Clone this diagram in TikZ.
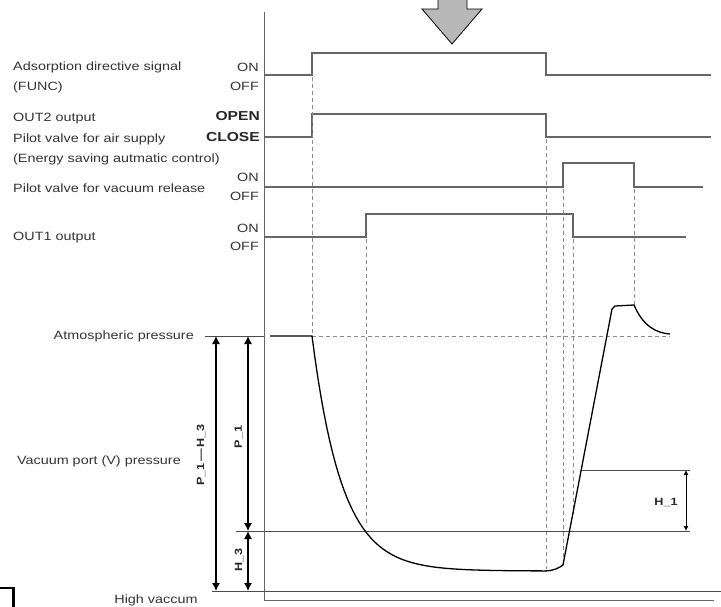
\documentclass[tikz,border=0pt]{standalone}
\usepackage{fontspec}
\setmainfont{Liberation Sans}[FakeStretch=1.2]
\usepackage{tikz}
\usetikzlibrary{arrows.meta, calc}

\begin{document}
\begin{tikzpicture}[x=1pt, y=-1pt,
    siglabel/.style={anchor=west, inner sep=0pt, font=\fontsize{12}{14}\selectfont, text=black!80},
    statelabel/.style={anchor=east, inner sep=0pt, font=\fontsize{12}{14}\selectfont, text=black!80},
    boldstate/.style={anchor=east, inner sep=0pt, font=\fontsize{13}{15}\selectfont\bfseries, text=black!85},
    wave/.style={draw=black!60, line width=1.4pt},
    guide/.style={draw=black!45, dash pattern=on 4pt off 3pt, line width=0.9pt},
    level/.style={draw=black!70, line width=0.7pt},
    dim/.style={draw=black, line width=1.1pt, {Latex[length=8pt,width=8pt]}-{Latex[length=8pt,width=8pt]}},
    dimsmall/.style={draw=black, line width=0.9pt, {Latex[length=5pt,width=5pt]}-{Latex[length=5pt,width=5pt]}},
    dimlabel/.style={font=\fontsize{10.5}{12}\selectfont\bfseries, inner sep=0pt, text=black!85}]
    \useasboundingbox (0,0) rectangle (721,606);

    % Time axis
    \draw[black!60, line width=0.9pt] (264,12) -- (264,600) -- (714,600);

    % Big arrow: adsorption start
    \draw[black, line width=0.8pt, fill=black!28] (438,-2) -- (438,9) -- (422,9) -- (452,44)
        -- (482,9) -- (467,9) -- (467,-2);

    % Signal 1: adsorption directive signal
    \node[siglabel] (funcA) at (13,67) {Adsorption directive signal};
    \node[siglabel] (funcB) at (13,87) {(FUNC)};
    \node[statelabel] (funcOn) at (259,67) {ON};
    \node[statelabel] (funcOff) at (259,86) {OFF};
    \draw[wave] (264,75) -- (312,75) -- (312,53) -- (546,53) -- (546,75) -- (711,75);

    % Signal 2: OUT2 output
    \node[siglabel] (outTwoA) at (13,119) {OUT2 output};
    \node[siglabel] (outTwoB) at (13,139) {Pilot valve for air supply};
    \node[siglabel] (outTwoC) at (13,159) {(Energy saving autmatic control)};
    \node[boldstate] (outTwoOpen) at (260,116) {OPEN};
    \node[boldstate] (outTwoClose) at (260,137) {CLOSE};
    \draw[wave] (264,137) -- (312,137) -- (312,114) -- (546,114) -- (546,137) -- (711,137);

    % Signal 3: pilot valve for vacuum release
    \node[siglabel] (relA) at (13,188) {Pilot valve for vacuum release};
    \node[statelabel] (relOn) at (259,177) {ON};
    \node[statelabel] (relOff) at (259,196) {OFF};
    \draw[wave] (264,187) -- (563,187) -- (563,163) -- (634,163) -- (634,187) -- (703,187);

    % Signal 4: OUT1 output
    \node[siglabel] (outOneA) at (13,238) {OUT1 output};
    \node[statelabel] (outOneOn) at (259,228) {ON};
    \node[statelabel] (outOneOff) at (259,246) {OFF};
    \draw[wave] (264,237) -- (366,237) -- (366,214) -- (573,214) -- (573,237) -- (686,237);

    % Timing guides
    \draw[guide] (312,77) -- (312,336);
    \draw[guide] (366,239) -- (366,523);
    \draw[guide] (546,139) -- (546,569);
    \draw[guide] (563,189) -- (563,563);
    \draw[guide] (573,239) -- (573,514);
    \draw[guide] (634,189) -- (634,305);
    \draw[guide] (312,336) -- (670,336);

    % Pressure levels
    \coordinate (atm) at (0,336);
    \coordinate (pone) at (0,531);
    \coordinate (hone) at (0,470);
    \coordinate (hvac) at (0,591);
    \coordinate (colA) at (216,0);
    \coordinate (colB) at (248,0);
    \coordinate (colC) at (686,0);
    \draw[level] (205,336) -- (264,336);
    \draw[level] (236,531) -- (690,531);
    \draw[level] (582,470) -- (690,470);
    \draw[level] (212,591) -- (721,591);

    \node[anchor=east, inner sep=0pt, font=\fontsize{12}{14}\selectfont, text=black!80] (atmText) at (194,336) {Atmospheric pressure};
    \node[anchor=east, inner sep=0pt, font=\fontsize{12}{14}\selectfont, text=black!80] (vpText) at (181,461) {Vacuum port (V) pressure};
    \node[inner sep=0pt, font=\fontsize{12}{14}\selectfont, text=black!80] (hvText) at (156,600) {High vaccum};

    % Vacuum port pressure curve
    \draw[black, line width=1.3pt] (270,336) -- (312,336)
        -- plot[domain=312:545, samples=80] (\x, {571-235*exp(-(\x-312)/30)})
        .. controls (553,571) and (559,568) .. (563,565)
        -- (612,309) -- (615,306) -- (634,305)
        .. controls (643,326) and (656,333) .. (670,334);

    % Dimensions
    \draw[dim] (colA |- atm) -- (colA |- hvac);
    \draw[dim] (colB |- atm) -- (colB |- pone);
    \draw[dim] (colB |- pone) -- (colB |- hvac);
    \draw[dimsmall] (colC |- hone) -- (colC |- pone);
    \node[dimlabel, rotate=90] (pmh) at (201,455) {P\_1\,---\,H\_3};
    \node[dimlabel, rotate=90] (pOne) at (239,437) {P\_1};
    \node[dimlabel, rotate=90] (hThree) at (239,560) {H\_3};
    \node[dimlabel] (hOne) at (666,503) {H\_1};

    % Corner mark
    \draw[black, line width=2.5pt] (0,588) -- (13.5,588) -- (13.5,607);
\end{tikzpicture}
\end{document}
